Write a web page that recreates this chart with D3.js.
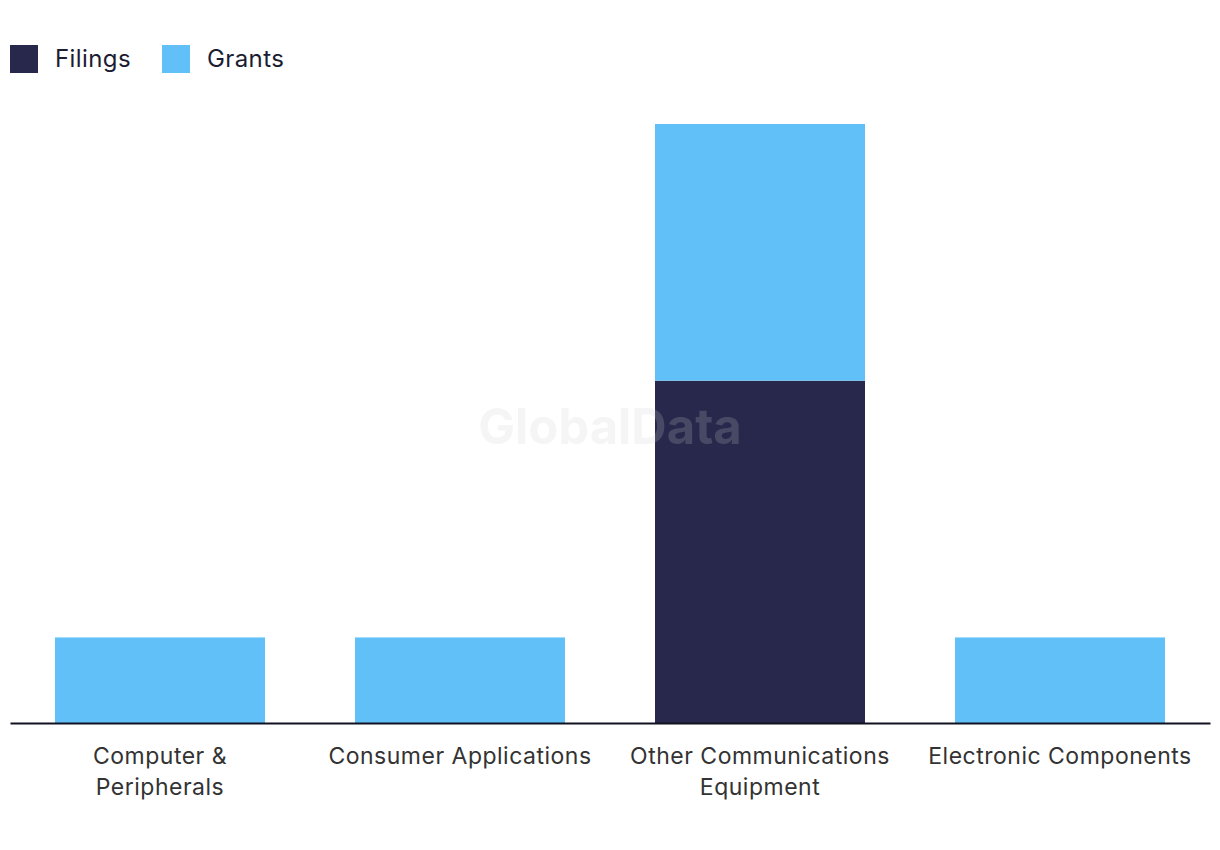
<!DOCTYPE html>
<html>
<head>
<meta charset="utf-8">
<script src="https://cdn.jsdelivr.net/npm/d3@7"></script>
<style>
  body { margin: 0; background: #fff; }
  svg { display: block; }
</style>
</head>
<body>
<svg id="chart" width="1220" height="850"></svg>
<script>
const categories = ["Computer & Peripherals", "Consumer Applications", "Other Communications Equipment", "Electronic Components"];
const categoryLines = [["Computer &", "Peripherals"], ["Consumer Applications"], ["Other Communications", "Equipment"], ["Electronic Components"]];
const seriesNames = ["Filings", "Grants"];
const filings = [0, 0, 4, 0];
const grants = [1, 1, 3, 1];
const colors = ["#27284b", "#62c0f8"];

const svg = d3.select("#chart");
const fontFamily = "Inter, 'Open Sans', sans-serif";

const x = d3.scaleBand().domain(categories).range([10, 1210]).paddingInner(0.3).paddingOuter(0.15);
const y = d3.scaleLinear().domain([0, 7]).range([723, 124]);

const table = categories.map((c, i) => ({ category: c, Filings: filings[i], Grants: grants[i] }));
const stacked = d3.stack().keys(seriesNames)(table);

svg.append("g").selectAll("g")
  .data(stacked)
  .join("g")
  .attr("fill", (d, i) => colors[i])
  .selectAll("rect")
  .data(d => d)
  .join("rect")
  .attr("x", d => x(d.data.category))
  .attr("width", x.bandwidth())
  .attr("y", d => y(d[1]))
  .attr("height", d => y(d[0]) - y(d[1]));

// watermark
svg.append("text")
  .attr("x", 610).attr("y", 444)
  .attr("text-anchor", "middle")
  .attr("font-family", fontFamily)
  .attr("font-weight", 700)
  .attr("font-size", 49)
  .attr("fill", "rgb(207,207,207)")
  .attr("fill-opacity", 0.2)
  .text("GlobalData");

// x axis
const xAxis = d3.axisBottom(x).tickSize(0).tickFormat("");
const axisG = svg.append("g").attr("transform", "translate(0,723)").call(xAxis);
axisG.select(".domain").attr("stroke", "#111122").attr("stroke-width", 2);

const labelsG = svg.append("g");
categories.forEach((c, i) => {
  const t = labelsG.append("text")
    .attr("x", x(c) + x.bandwidth() / 2)
    .attr("y", 764)
    .attr("text-anchor", "middle")
    .attr("font-family", fontFamily)
    .attr("font-size", 23)
    .attr("letter-spacing", 0.5)
    .attr("fill", "#333333");
  categoryLines[i].forEach((line, j) => {
    t.append("tspan").attr("x", x(c) + x.bandwidth() / 2).attr("dy", j === 0 ? 0 : 31).text(line);
  });
});

// legend
const legend = svg.append("g");
const legendX = [10, 162];
seriesNames.forEach((s, i) => {
  legend.append("rect").attr("x", legendX[i]).attr("y", 45).attr("width", 28).attr("height", 28).attr("fill", colors[i]);
  legend.append("text")
    .attr("x", legendX[i] + 45).attr("y", 67)
    .attr("font-family", fontFamily)
    .attr("font-size", 24)
    .attr("letter-spacing", 0.4)
    .attr("fill", "#1c1c33")
    .text(s);
});
</script>
</body>
</html>
